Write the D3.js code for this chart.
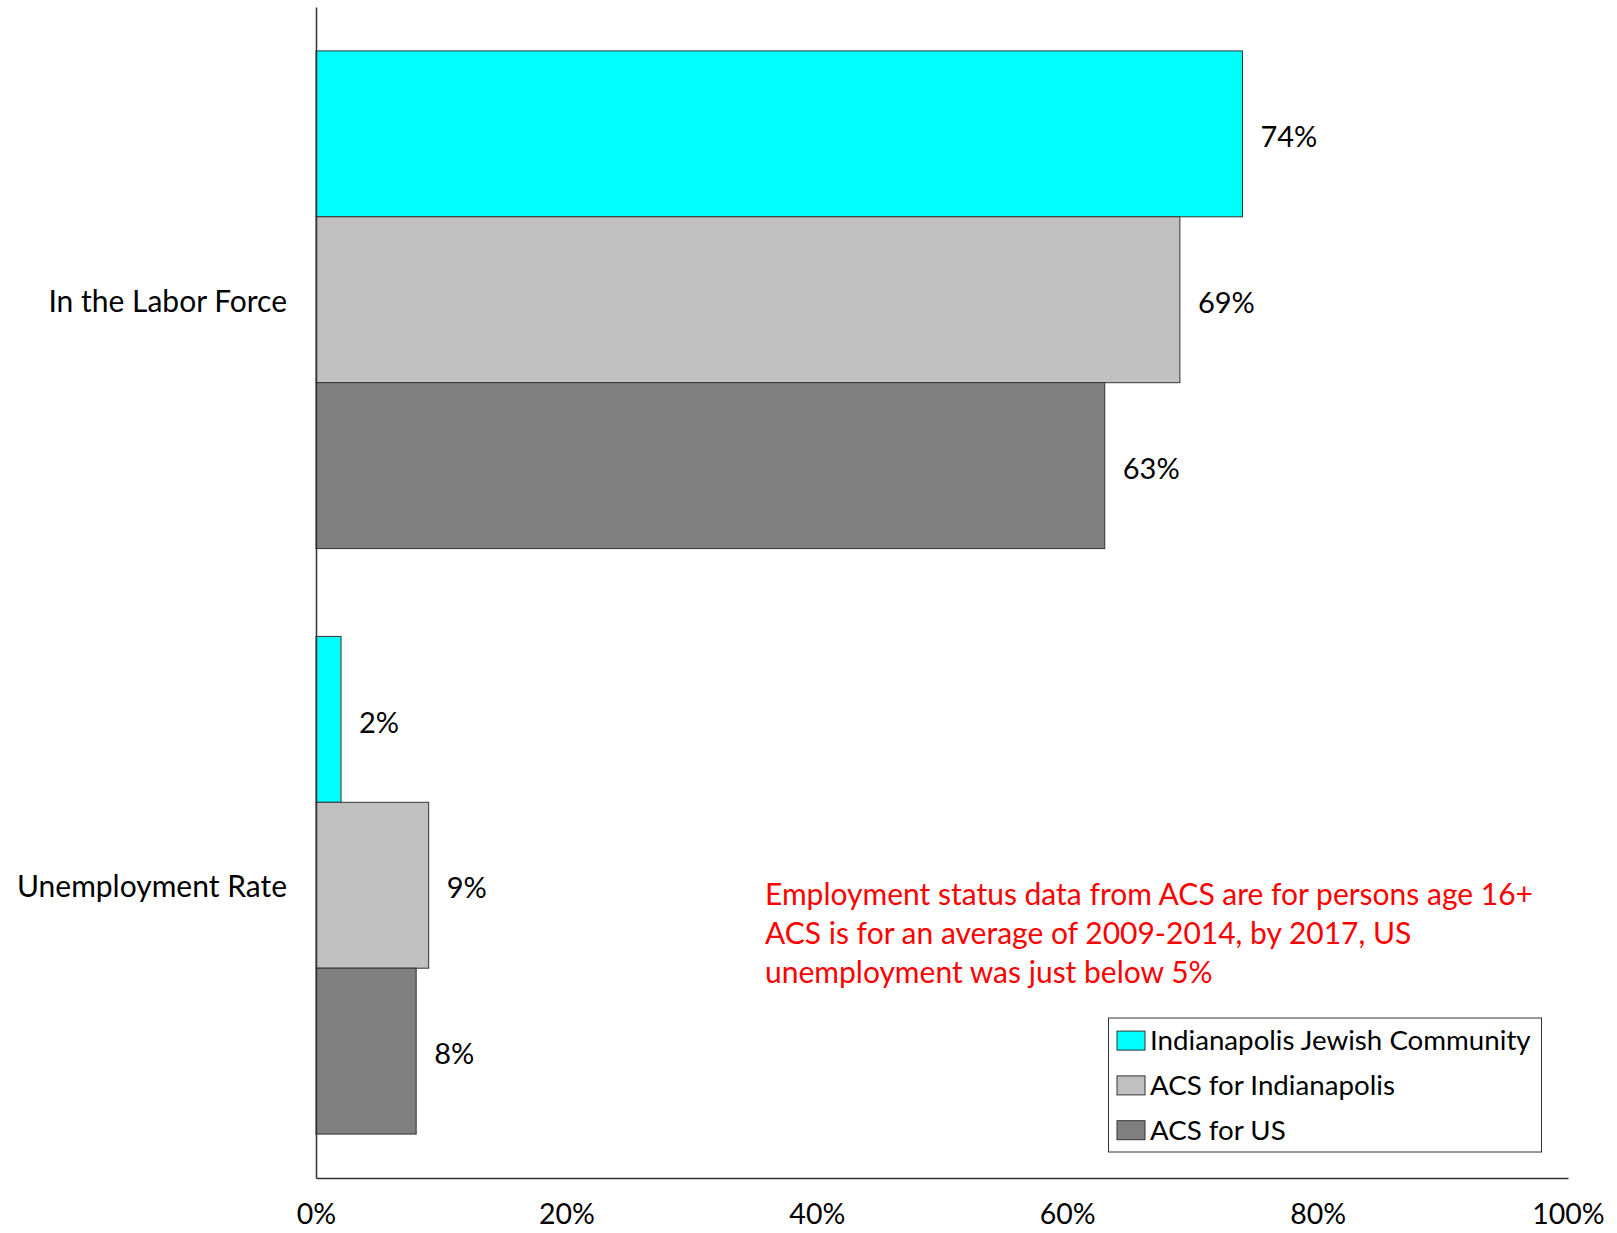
<!DOCTYPE html>
<html><head><meta charset="utf-8">
<script src="https://cdn.jsdelivr.net/npm/d3@7"></script>
<style>body{margin:0;background:#fff}svg{display:block}text{font-family:Lato,"Open Sans",sans-serif}</style>
</head><body>
<script>
const categories = ["In the Labor Force", "Unemployment Rate"];
const seriesNames = ["Indianapolis Jewish Community", "ACS for Indianapolis", "ACS for US"];
const seriesColors = ["#00FFFF", "#C0C0C0", "#808080"];
const jewishCommunity = [74, 2];
const acsIndianapolis = [69, 9];
const acsUS = [63, 8];
const xTicks = [0, 20, 40, 60, 80, 100];
const noteLines = [
  "Employment status data from ACS are for persons age 16+",
  "ACS is for an average of 2009-2014, by 2017, US",
  "unemployment was just below 5%"
];

const W = 1617, H = 1233;
const plotLeft = 316, plotRight = 1568, plotTop = 7, plotBottom = 1178;
const svg = d3.select("body").append("svg").attr("width", W).attr("height", H);

const x = d3.scaleLinear().domain([0, 100]).range([plotLeft, plotRight]);
const y0 = d3.scaleBand().domain(categories).range([plotTop, plotBottom]).paddingInner(0.15).paddingOuter(0.075);
const y1 = d3.scaleBand().domain(seriesNames).range([0, y0.bandwidth()]);
const seriesValues = [jewishCommunity, acsIndianapolis, acsUS];

const data = [];
categories.forEach((c, ci) => seriesNames.forEach((s, si) => data.push({c, s, si, v: seriesValues[si][ci]})));

svg.selectAll("rect.bar").data(data).enter().append("rect").attr("class", "bar")
  .attr("x", x(0)).attr("y", d => y0(d.c) + y1(d.s))
  .attr("width", d => x(d.v) - x(0)).attr("height", y1.bandwidth())
  .attr("fill", d => seriesColors[d.si]).attr("stroke", "#333").attr("stroke-width", 1);

svg.selectAll("text.val").data(data).enter().append("text").attr("class", "val")
  .attr("x", d => x(d.v) + 18).attr("y", d => y0(d.c) + y1(d.s) + y1.bandwidth() / 2 + 3)
  .attr("dy", "0.35em").attr("font-size", 29).attr("fill", "#000")
  .text(d => d.v + "%");

// axes
const xAxis = svg.append("g").attr("transform", `translate(0,${plotBottom})`)
  .call(d3.axisBottom(x).tickValues(xTicks).tickSize(0).tickFormat(d => d + "%"));
xAxis.select(".domain").attr("stroke", "#333").attr("stroke-width", 1.5);
xAxis.selectAll("text").attr("font-size", 28.5).attr("fill", "#000").attr("dy", "0").attr("y", 46)
  .style("font-family", "Lato, sans-serif");

const yAxis = svg.append("g").attr("transform", `translate(${plotLeft},0)`)
  .call(d3.axisLeft(y0).tickSize(0).tickPadding(29));
yAxis.select(".domain").attr("stroke", "#333").attr("stroke-width", 1.5);
yAxis.selectAll("text").attr("font-size", 30).attr("fill", "#000").attr("dy", "0.4em")
  .style("font-family", "Lato, sans-serif");

// note
svg.append("g").selectAll("text").data(noteLines).enter().append("text")
  .attr("x", 765).attr("y", (d, i) => 894 + i * 39.2).attr("dy", "0.35em")
  .attr("font-size", 30).attr("fill", "#FF0000").text(d => d);

// legend
const lg = svg.append("g");
lg.append("rect").attr("x", 1108.5).attr("y", 1018).attr("width", 433).attr("height", 134)
  .attr("fill", "#fff").attr("stroke", "#333").attr("stroke-width", 1);
const rows = lg.selectAll("g.row").data(seriesNames).enter().append("g").attr("class", "row")
  .attr("transform", (d, i) => `translate(1117,${1040.6 + i * 44.8})`);
rows.append("rect").attr("x", 0).attr("y", -9.5).attr("width", 28).attr("height", 19)
  .attr("fill", (d, i) => seriesColors[i]).attr("stroke", "#333").attr("stroke-width", 1);
rows.append("text").attr("x", 33).attr("y", 0).attr("dy", "0.35em").attr("font-size", 27.7)
  .attr("fill", "#000").text(d => d);
</script>
</body></html>
